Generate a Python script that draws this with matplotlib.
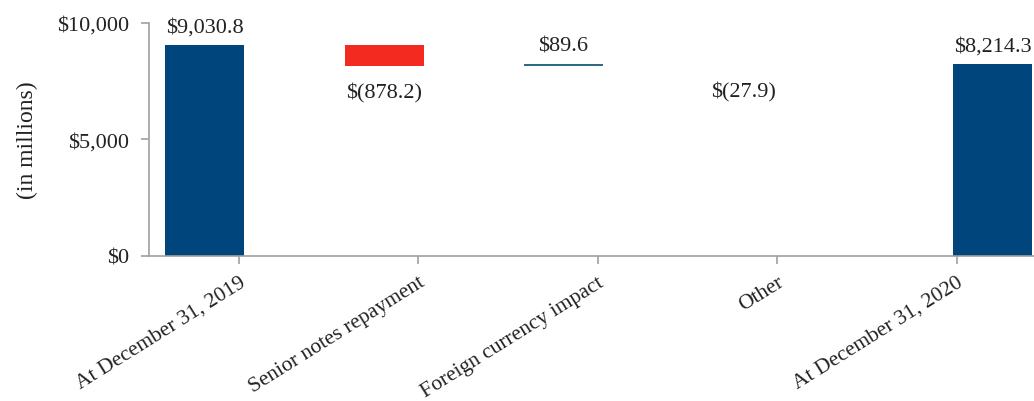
import matplotlib
matplotlib.use("Agg")
import matplotlib.pyplot as plt
import numpy as np

plt.rcParams['font.family'] = ['Liberation Serif', 'DejaVu Serif']

categories = ["At December 31, 2019", "Senior notes repayment",
              "Foreign currency impact", "Other", "At December 31, 2020"]
start_total = 9030.8
changes = [-878.2, 89.6, -27.9]
end_total = 8214.3
value_labels = ["$9,030.8", "$(878.2)", "$89.6", "$(27.9)", "$8,214.3"]
yticks = [0, 5000, 10000]
ytick_labels = ["$0", "$5,000", "$10,000"]

total_color = "#00457C"
down_color = "#F22A1F"
up_color = "#2E6B85"
text_color = "#222222"

fig = plt.figure(figsize=(10.34, 4.02), dpi=100)
ax = fig.add_axes([0.144, 0.361, 0.868, 0.580])

# bar offsets relative to the tick (the source chart is shifted)
offsets = [-0.19, -0.19, -0.19, -0.19, 0.20]
width = 0.44
x = np.arange(len(categories)) + np.array(offsets)

# totals
ax.bar(x[0], start_total, width=width, color=total_color, linewidth=0)
ax.bar(x[4], end_total, width=width, color=total_color, linewidth=0)
ax.annotate(value_labels[0], (x[0], start_total), xytext=(0, 6),
            textcoords="offset points", ha="center", va="bottom",
            fontsize=16, color=text_color)
ax.annotate(value_labels[4], (x[4], end_total), xytext=(0, 6),
            textcoords="offset points", ha="center", va="bottom",
            fontsize=16, color=text_color)

# changes (the tiny "Other" step is not visible in the source)
level = start_total
for i, d in enumerate(changes):
    xi = x[i + 1]
    bottom = level + min(d, 0)
    if d < 0:
        col = down_color if abs(d) > 100 else "none"
    else:
        col = up_color
    ax.bar(xi, abs(d), bottom=bottom, width=width, color=col, linewidth=0)
    if d < 0:
        ax.annotate(value_labels[i + 1], (xi, bottom), xytext=(0, -12),
                    textcoords="offset points", ha="center", va="top",
                    fontsize=16, color=text_color)
    else:
        ax.annotate(value_labels[i + 1], (xi, level + d), xytext=(0, 6),
                    textcoords="offset points", ha="center", va="bottom",
                    fontsize=16, color=text_color)
    level += d

ax.set_xlim(-0.5, 4.5)
ax.set_ylim(0, 10000)
ax.set_yticks(yticks)
ax.set_yticklabels(ytick_labels, fontsize=16, color=text_color)
ax.set_xticks(np.arange(len(categories)))
ax.set_xticklabels(categories, fontsize=15.5, color=text_color,
                   rotation=32, ha="right", rotation_mode="anchor")
ax.set_ylabel("(in millions)", fontsize=17, color=text_color, labelpad=14)

for s in ["top", "right"]:
    ax.spines[s].set_visible(False)
for s in ["left", "bottom"]:
    ax.spines[s].set_color("#A0A0A0")
    ax.spines[s].set_linewidth(1.2)
ax.tick_params(axis="both", colors="#A0A0A0", length=6, width=1.2)
ax.tick_params(axis="both", labelcolor=text_color)
ax.tick_params(axis="y", pad=8)
ax.tick_params(axis="x", pad=6)

fig.savefig("out.png", dpi=100)
